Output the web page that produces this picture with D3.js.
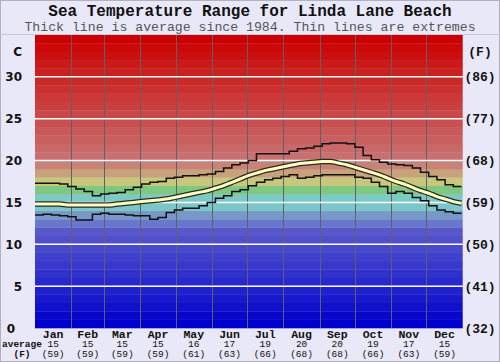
<!DOCTYPE html>
<html>
<head>
<meta charset="utf-8">
<script src="https://cdn.jsdelivr.net/npm/d3@7"></script>
<style>
  html, body { margin: 0; padding: 0; background: #e8e8f8; }
  svg { display: block; }
</style>
</head>
<body>
<svg id="chart" width="500" height="362"></svg>
<script>
// ---- data ----
const months = ['Jan', 'Feb', 'Mar', 'Apr', 'May', 'Jun', 'Jul', 'Aug', 'Sep', 'Oct', 'Nov', 'Dec']
const monthDays = [31, 28, 31, 30, 31, 30, 31, 31, 30, 31, 30, 31]
const monthAvgC = [15, 15, 15, 15, 16, 17, 19, 20, 20, 19, 17, 15]
const monthAvgF = [59, 59, 59, 59, 61, 63, 66, 68, 68, 66, 63, 59]
const cTicks = [0, 5, 10, 15, 20, 25, 30]
const fTicks = ['(32)', '(41)', '(50)', '(59)', '(68)', '(77)', '(86)']

// weekly samples, day 0,7,...,364
const weekDays = d3.range(0, 365, 7)
const avgTemp = [14.8, 14.8, 14.8, 14.8, 14.7, 14.7, 14.7, 14.7, 14.7, 14.7,
  14.8, 14.9, 15.0, 15.1, 15.2, 15.3, 15.4, 15.6, 15.8, 16.0,
  16.2, 16.4, 16.7, 17.0, 17.4, 17.8, 18.2, 18.5, 18.8, 19.0,
  19.2, 19.4, 19.6, 19.7, 19.8, 19.9, 19.9, 19.7, 19.5, 19.2,
  18.9, 18.6, 18.3, 17.9, 17.5, 17.2, 16.8, 16.4, 16.1, 15.7,
  15.4, 15.1, 14.9]
const maxTemp = [17.3, 17.3, 17.3, 17.2, 16.9, 16.6, 16.3, 15.8, 16.0, 16.1,
  16.2, 16.5, 16.8, 17.2, 17.4, 17.5, 17.9, 18.0, 18.2, 18.2,
  18.3, 18.4, 18.7, 19.1, 19.5, 19.7, 20.0, 20.8, 20.8, 20.8,
  20.8, 21.1, 21.4, 21.5, 21.7, 22.0, 22.1, 22.1, 22.0, 21.6,
  20.6, 20.1, 19.8, 19.6, 19.5, 19.4, 19.1, 18.6, 18.1, 17.7,
  17.1, 16.9, 16.9]
const minTemp = [13.5, 13.6, 13.5, 13.4, 13.3, 12.9, 12.9, 13.6, 13.7, 13.6,
  13.6, 13.5, 13.4, 13.4, 13.0, 13.2, 13.8, 14.1, 14.3, 14.3,
  14.6, 15.0, 15.5, 15.8, 16.3, 16.5, 17.0, 17.4, 17.7, 17.9,
  18.1, 18.3, 17.9, 18.0, 18.2, 18.3, 18.3, 18.3, 18.3, 18.0,
  17.9, 17.4, 16.9, 16.1, 16.3, 16.1, 15.6, 15.2, 14.6, 14.1,
  13.9, 13.7, 13.7]

// ---- layout ----
const plot = { left: 35, right: 462.7, top: 35, bottom: 328 }
const bg = '#e8e8f8'
const fontMono = '"Liberation Mono", "Courier New", monospace'
const fontSans = '"DejaVu Sans", Verdana, sans-serif'

const svg = d3.select('#chart')

const x = d3.scaleLinear().domain([0, 365]).range([plot.left, plot.right])
const y = d3.scaleLinear().domain([0, 35]).range([plot.bottom, plot.top])

// colour of each 1 degree band, 0..34
const bandColor = function (k) {
  if (k <= 11) return d3.rgb(8 * k, 8 * k, 204).toString()
  const special = { 12: '#6a78cc', 13: '#7898c8', 14: '#7ac6c8', 15: '#7ccac6', 16: '#80c880', 17: '#c8c87c', 18: '#c8a27a', 19: '#c88278' }
  if (special[k]) return special[k]
  const t = (k - 20) / 14
  const g = Math.round(112 * (1 - t))
  return d3.rgb(200 + 4 * t, g, g).toString()
}

// outer frame
svg.append('rect')
  .attr('x', 0.5).attr('y', 0.5).attr('width', 499).attr('height', 361)
  .attr('fill', bg).attr('stroke', '#b0b0c0')

svg.append('line')
  .attr('x1', 0).attr('x2', 500).attr('y1', 34.5).attr('y2', 34.5)
  .attr('stroke', '#c8c8d8')

// background bands
svg.append('g')
  .selectAll('rect')
  .data(d3.range(0, 35))
  .enter()
  .append('rect')
  .attr('x', plot.left)
  .attr('width', plot.right - plot.left)
  .attr('y', d => y(d + 1))
  .attr('height', d => y(d) - y(d + 1) + 0.3)
  .attr('fill', d => bandColor(d))

// month separators
let cum = 0
const monthEdges = monthDays.slice(0, 11).map(d => (cum += d))
svg.append('g')
  .selectAll('line')
  .data(monthEdges)
  .enter()
  .append('line')
  .attr('x1', d => Math.round(x(d)) + 0.5)
  .attr('x2', d => Math.round(x(d)) + 0.5)
  .attr('y1', plot.top)
  .attr('y2', plot.bottom)
  .attr('stroke', '#606068')
  .attr('stroke-width', 1)

// white horizontal grid
svg.append('g')
  .selectAll('line')
  .data(cTicks.slice(1))
  .enter()
  .append('line')
  .attr('x1', plot.left)
  .attr('x2', plot.right)
  .attr('y1', d => y(d))
  .attr('y2', d => y(d))
  .attr('stroke', '#ffffff')
  .attr('stroke-width', 1.5)

// data lines
const stepLine = d3.line()
  .x((d, i) => x(weekDays[i]))
  .y(d => y(d))
  .curve(d3.curveStepAfter)
const smoothLine = d3.line()
  .x((d, i) => x(weekDays[i]))
  .y(d => y(d))
  .curve(d3.curveMonotoneX)

svg.append('path').datum(maxTemp).attr('d', stepLine)
  .attr('fill', 'none').attr('stroke', '#111').attr('stroke-width', 1.5)
svg.append('path').datum(minTemp).attr('d', stepLine)
  .attr('fill', 'none').attr('stroke', '#111').attr('stroke-width', 1.5)
svg.append('path').datum(avgTemp).attr('d', smoothLine)
  .attr('fill', 'none').attr('stroke', '#2a2a20').attr('stroke-width', 5.5)
svg.append('path').datum(avgTemp).attr('d', smoothLine)
  .attr('fill', 'none').attr('stroke', '#ffffc4').attr('stroke-width', 3)

// titles
svg.append('text')
  .attr('x', 250).attr('y', 16)
  .attr('text-anchor', 'middle')
  .style('font-family', fontMono).style('font-weight', 'bold').style('font-size', '16px')
  .attr('fill', '#111')
  .text('Sea Temperature Range for Linda Lane Beach')
svg.append('text')
  .attr('x', 250).attr('y', 31)
  .attr('text-anchor', 'middle')
  .style('font-family', fontMono).style('font-size', '13.2px')
  .attr('fill', '#555')
  .text('Thick line is average since 1984. Thin lines are extremes')

// left axis (C)
svg.append('text')
  .attr('x', 22).attr('y', y(33) + 4.5)
  .attr('text-anchor', 'end')
  .style('font-family', fontSans).style('font-weight', 'bold').style('font-size', '12px')
  .attr('fill', '#111').text('C')
svg.append('g')
  .selectAll('text')
  .data(cTicks)
  .enter()
  .append('text')
  .attr('x', d => d === 0 ? 15 : 22)
  .attr('y', d => y(d) + 4.5)
  .attr('text-anchor', 'end')
  .style('font-family', fontSans).style('font-weight', 'bold').style('font-size', '12px')
  .attr('fill', '#111')
  .text(d => d)

// right axis (F)
svg.append('text')
  .attr('x', 480).attr('y', y(33) + 4.5)
  .attr('text-anchor', 'middle')
  .style('font-family', fontMono).style('font-weight', 'bold').style('font-size', '13px')
  .attr('fill', '#111').text('(F)')
svg.append('g')
  .selectAll('text')
  .data(fTicks)
  .enter()
  .append('text')
  .attr('x', 480)
  .attr('y', (d, i) => y(cTicks[i]) + 4.5)
  .attr('text-anchor', 'middle')
  .style('font-family', fontMono).style('font-weight', 'bold').style('font-size', '13px')
  .attr('fill', '#111')
  .text(d => d)

// bottom month labels
let start = 0
const monthMid = monthDays.map(d => { const m = start + d / 2; start += d; return m })
const bottom_g = svg.append('g')
  .selectAll('g')
  .data(months)
  .enter()
  .append('g')
  .attr('transform', (d, i) => `translate(${x(monthMid[i])},0)`)

bottom_g.append('text')
  .attr('y', 337.5).attr('text-anchor', 'middle')
  .style('font-family', fontMono).style('font-weight', 'bold').style('font-size', '11.5px')
  .attr('fill', '#111')
  .text(d => d)
bottom_g.append('text')
  .attr('y', 347).attr('text-anchor', 'middle')
  .style('font-family', fontMono).style('font-size', '9.5px')
  .attr('fill', '#111')
  .text((d, i) => monthAvgC[i])
bottom_g.append('text')
  .attr('y', 356.5).attr('text-anchor', 'middle')
  .style('font-family', fontMono).style('font-size', '9.5px')
  .attr('fill', '#111')
  .text((d, i) => `(${monthAvgF[i]})`)

svg.append('text')
  .attr('x', 2).attr('y', 347)
  .style('font-family', fontMono).style('font-weight', 'bold').style('font-size', '9.5px')
  .attr('fill', '#111').text('average')
svg.append('text')
  .attr('x', 22).attr('y', 356.5).attr('text-anchor', 'middle')
  .style('font-family', fontMono).style('font-weight', 'bold').style('font-size', '9.5px')
  .attr('fill', '#111').text('(F)')
</script>
</body>
</html>
